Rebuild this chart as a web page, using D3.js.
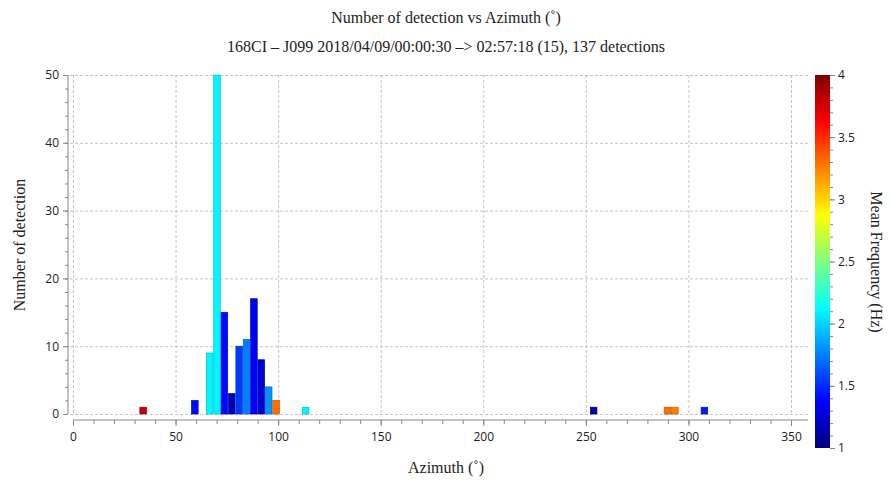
<!DOCTYPE html>
<html>
<head>
<meta charset="utf-8">
<script src="https://cdn.jsdelivr.net/npm/d3@7"></script>
<style>
  body { margin: 0; background: #fff; }
  svg text { fill: #222; }
</style>
</head>
<body>
<svg id="chart" width="892" height="480"></svg>
<script>
// histogram bins of 3.6 degrees: bin start azimuth, count, mean frequency (Hz)
const binStart = [32.4, 57.6, 64.8, 68.4, 72, 75.6, 79.2, 82.8, 86.4, 90, 93.6, 97.2, 111.6, 252, 288, 291.6, 306]
const counts   = [1,    2,    9,    50,   15, 3,    10,   11,   17,   8,  4,    2,    1,     1,   1,   1,     1]
const meanFreq = [3.8,  1.4,  2.1,  2.1,  1.4, 1.15, 1.55, 1.75, 1.35, 1.25, 1.8, 3.3, 2.1,  1.15, 3.3, 3.25, 1.45]
const binWidth = 3.6

const xTicks = [0, 50, 100, 150, 200, 250, 300, 350]
const yTicks = [0, 10, 20, 30, 40, 50]
const cTicks = [1, 1.5, 2, 2.5, 3, 3.5, 4]

const svg = d3.select("#chart")
const serif = "'Liberation Serif', 'DejaVu Serif', serif"
const sans = "'Open Sans', 'DejaVu Sans', sans-serif"

let x = d3.scaleLinear().domain([0, 350]).range([73, 791])
let y = d3.scaleLinear().domain([0, 50]).range([414, 75])

// jet colour map for 1..4 Hz
let color = d3.scaleLinear()
    .domain([1, 1.375, 2.125, 2.875, 3.625, 4])
    .range(["#00007f", "#0000ff", "#00ffff", "#ffff00", "#ff0000", "#7f0000"])

// titles
svg.append("text").attr("x", 446).attr("y", 23).attr("text-anchor", "middle")
    .style("font-family", serif).style("font-size", "16px")
    .text("Number of detection vs Azimuth (˚)")
svg.append("text").attr("x", 446).attr("y", 52).attr("text-anchor", "middle")
    .style("font-family", serif).style("font-size", "16px")
    .text("168CI – J099 2018/04/09/00:00:30 –> 02:57:18 (15), 137 detections")

// grid
let grid = svg.append("g").attr("stroke", "#c4c4c4").attr("stroke-dasharray", "3,2").attr("stroke-width", 1)
grid.selectAll("line.h").data(yTicks).join("line")
    .attr("x1", 70).attr("x2", 808)
    .attr("y1", d => y(d) + 0.5).attr("y2", d => y(d) + 0.5)
grid.selectAll("line.v").data(xTicks).join("line")
    .attr("x1", d => x(d) + 0.5).attr("x2", d => x(d) + 0.5)
    .attr("y1", 75).attr("y2", 414)

// bars
svg.append("g").selectAll("rect").data(binStart).join("rect")
    .attr("x", (d) => x(d) + 0.4)
    .attr("width", x(binWidth) - x(0) - 0.8)
    .attr("y", (d, i) => y(counts[i]))
    .attr("height", (d, i) => y(0) - y(counts[i]))
    .attr("fill", (d, i) => color(meanFreq[i]))
    .attr("stroke", (d, i) => d3.color(color(meanFreq[i])).darker(0.7))
    .attr("stroke-width", 0.7)

// x axis
let xAxisG = svg.append("g").attr("transform", "translate(0,420)")
xAxisG.append("line").attr("x1", x(0)).attr("x2", 808).attr("stroke", "#888")
xAxisG.append("g")
    .call(d3.axisBottom(x).tickValues(d3.range(0, 351, 10)).tickSize(4).tickFormat(""))
    .call(g => g.select(".domain").remove())
    .call(g => g.selectAll("line").attr("stroke", "#888"))
xAxisG.append("g")
    .call(d3.axisBottom(x).tickValues(xTicks).tickSize(6).tickPadding(6))
    .call(g => g.select(".domain").remove())
    .call(g => g.selectAll("line").attr("stroke", "#888"))
    .call(g => g.selectAll("text").style("font-family", sans).style("font-size", "12px").attr("fill", "#333"))

// y axis
let yAxisG = svg.append("g").attr("transform", "translate(68,0)")
yAxisG.append("line").attr("y1", 75).attr("y2", 414).attr("stroke", "#888")
yAxisG.append("g")
    .call(d3.axisLeft(y).tickValues(d3.range(0, 51, 2)).tickSize(3).tickFormat(""))
    .call(g => g.select(".domain").remove())
    .call(g => g.selectAll("line").attr("stroke", "#888"))
yAxisG.append("g")
    .call(d3.axisLeft(y).tickValues(yTicks).tickSize(5).tickPadding(4))
    .call(g => g.select(".domain").remove())
    .call(g => g.selectAll("line").attr("stroke", "#888"))
    .call(g => g.selectAll("text").style("font-family", sans).style("font-size", "12px").attr("fill", "#333"))

svg.append("text").attr("x", 446).attr("y", 473).attr("text-anchor", "middle")
    .style("font-family", serif).style("font-size", "16px")
    .text("Azimuth (˚)")
svg.append("text").attr("transform", "translate(25,245) rotate(-90)").attr("text-anchor", "middle")
    .style("font-family", serif).style("font-size", "16px")
    .text("Number of detection")

// colour bar
let cScale = d3.scaleLinear().domain([1, 4]).range([448, 75])
let grad = svg.append("defs").append("linearGradient").attr("id", "jet")
    .attr("x1", 0).attr("y1", 1).attr("x2", 0).attr("y2", 0)
grad.selectAll("stop").data(color.domain()).join("stop")
    .attr("offset", d => (d - 1) / 3)
    .attr("stop-color", d => color(d))
svg.append("rect").attr("x", 815).attr("y", 75).attr("width", 15).attr("height", 373)
    .attr("fill", "url(#jet)")

let cAxisG = svg.append("g").attr("transform", "translate(830,0)")
cAxisG.append("g")
    .call(d3.axisRight(cScale).tickValues(d3.range(10, 41, 1).map(d => d / 10)).tickSize(3).tickFormat(""))
    .call(g => g.select(".domain").remove())
    .call(g => g.selectAll("line").attr("stroke", "#888"))
cAxisG.append("g")
    .call(d3.axisRight(cScale).tickValues(cTicks).tickSize(5).tickPadding(3).tickFormat(d3.format("")))
    .call(g => g.select(".domain").remove())
    .call(g => g.selectAll("line").attr("stroke", "#888"))
    .call(g => g.selectAll("text").style("font-family", sans).style("font-size", "12px").attr("fill", "#333"))

svg.append("text").attr("transform", "translate(871,262) rotate(90)").attr("text-anchor", "middle")
    .style("font-family", serif).style("font-size", "16px")
    .text("Mean Frequency (Hz)")
</script>
</body>
</html>
